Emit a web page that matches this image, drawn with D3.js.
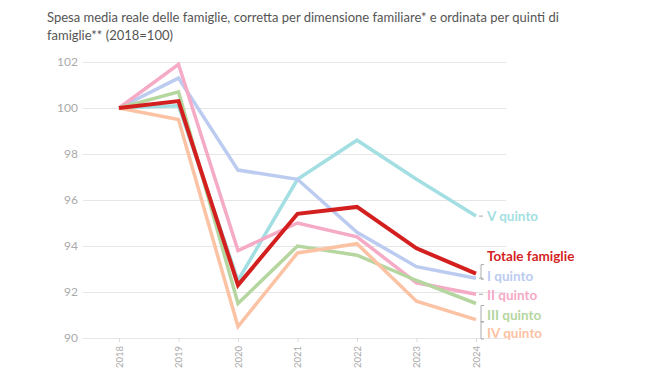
<!DOCTYPE html>
<html><head><meta charset="utf-8">
<script src="https://cdn.jsdelivr.net/npm/d3@7"></script>
<style>body{margin:0;background:#fff}svg{display:block}text{font-family:Lato,"Open Sans",sans-serif}</style>
</head><body><div id="chart"></div>
<script>
const years = ["2018","2019","2020","2021","2022","2023","2024"];
const yTicks = [90,92,94,96,98,100,102];
const vQuinto   = [100,100.1,92.5,96.9,98.6,96.9,95.3];
const iQuinto   = [100,101.3,97.3,96.9,94.6,93.1,92.6];
const iiQuinto  = [100,101.9,93.8,95.0,94.4,92.4,91.9];
const iiiQuinto = [100,100.7,91.5,94.0,93.6,92.5,91.5];
const ivQuinto  = [100,99.5,90.5,93.7,94.1,91.6,90.8];
const totale    = [100,100.3,92.3,95.4,95.7,93.9,92.8];
const seriesNames = ["V quinto","I quinto","II quinto","III quinto","IV quinto","Totale famiglie"];
const seriesColors = ["#a3dfe2","#bccbf0","#f5aac6","#b5d69f","#fcc2a4","#d41f1f"];

const W=650,H=381;
const svg=d3.select("#chart").append("svg").attr("width",W).attr("height",H);
const x=d3.scalePoint().domain(years).range([119,476]);
const y=d3.scaleLinear().domain([90,102]).range([338,62]);

svg.append("text").attr("x",47).attr("y",22).attr("fill","#555").attr("font-size",13)
  .text("Spesa media reale delle famiglie, corretta per dimensione familiare* e ordinata per quinti di");
svg.append("text").attr("x",47).attr("y",40).attr("fill","#555").attr("font-size",13)
  .text("famiglie** (2018=100)");

// grid
const yAxis=d3.axisLeft(y).tickValues(yTicks).tickSize(-(506-83)).tickPadding(5);
const gy=svg.append("g").attr("transform","translate(83,0)").call(yAxis);
gy.select(".domain").remove();
gy.selectAll(".tick line").attr("stroke","#e6e6e6");
gy.selectAll(".tick text").attr("fill","#aaa").attr("font-size",12).attr("x",-5);

const xAxis=d3.axisBottom(x).tickSize(4).tickPadding(4);
const gx=svg.append("g").attr("transform","translate(0,338)").call(xAxis);
gx.select(".domain").remove();
gx.selectAll(".tick line").attr("stroke","#ddd");
gx.selectAll(".tick text").attr("fill","#aaa").attr("font-size",9.5)
  .attr("transform","rotate(-90)").attr("text-anchor","end").attr("dy","0.32em").attr("x",-8).attr("y",0);

const all=[vQuinto,iQuinto,iiQuinto,iiiQuinto,ivQuinto,totale];
const line=d3.line().x((d,i)=>x(years[i])).y(d=>y(d));
all.forEach((s,k)=>{
  svg.append("path").datum(s).attr("d",line).attr("fill","none")
    .attr("stroke",seriesColors[k]).attr("stroke-width",k===5?4:3.5)
    .attr("stroke-linejoin","miter");
});

// labels
const labelY=[216,276,295,315,333,256];
const lx=487;
all.forEach((s,k)=>{
  const ly=y(s[s.length-1]);
  const ty=labelY[k];
  svg.append("text").attr("x",lx).attr("y",ty).attr("dy","0.35em")
    .attr("fill",seriesColors[k]).attr("font-size",13.5).attr("font-weight","bold").text(seriesNames[k]);
  if(Math.abs(ty-ly)<3){
    svg.append("line").attr("x1",479).attr("x2",483).attr("y1",ly).attr("y2",ly).attr("stroke","#aaa");
  }
});
function bracket(y1,y2){
  svg.append("path").attr("d",`M484,${y1}H481V${y2}H484`).attr("fill","none").attr("stroke","#aaa");
}
bracket(y(totale[6])-9,y(iQuinto[6])+1);
bracket(y(iiiQuinto[6])+2,315+7);
bracket(y(ivQuinto[6])+2,333+6);
</script></body></html>
